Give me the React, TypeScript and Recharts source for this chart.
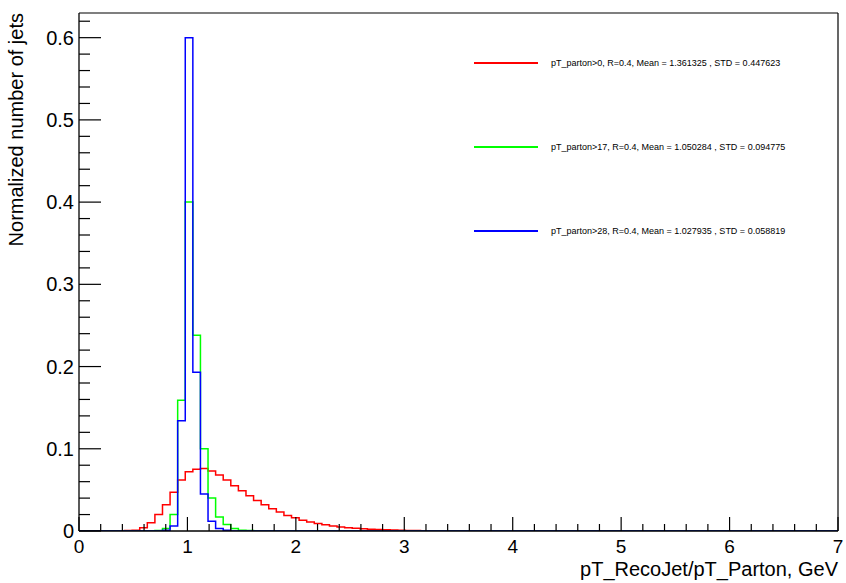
import React from "react";
import { LineChart, Line, XAxis, YAxis, ReferenceLine, Label } from "recharts";

// histogram binning: 100 bins over 0..7
const BIN_WIDTH = 0.07;
const BIN_COUNT = 100;

// bin contents, starting at the given bin index
const RED_FIRST_BIN = 6;
const RED_VALUES = [
  0.0005, 0.001, 0.004, 0.01, 0.02, 0.032, 0.047, 0.062, 0.072, 0.075, 0.076, 0.073, 0.068, 0.062,
  0.055, 0.049, 0.043, 0.037, 0.032, 0.027, 0.023, 0.019, 0.016, 0.013, 0.011, 0.009, 0.0075, 0.006,
  0.005, 0.004, 0.0033, 0.0027, 0.0022, 0.0018, 0.0014, 0.0011, 0.0009, 0.0007, 0.0005, 0.0004,
  0.0003, 0.0002, 0.00015, 0.0001,
];
const GREEN_FIRST_BIN = 10;
const GREEN_VALUES = [0.0005, 0.003, 0.02, 0.159, 0.4, 0.238, 0.1, 0.04, 0.017, 0.008, 0.003, 0.001, 0.0005];
const BLUE_FIRST_BIN = 11;
const BLUE_VALUES = [0.001, 0.006, 0.134, 0.6, 0.193, 0.045, 0.012, 0.003, 0.001];

const SERIES = [
  { key: "red", color: "#ff0000", first: RED_FIRST_BIN, values: RED_VALUES, name: "pT_parton>0, R=0.4, Mean = 1.361325 , STD = 0.447623" },
  { key: "green", color: "#00ff00", first: GREEN_FIRST_BIN, values: GREEN_VALUES, name: "pT_parton>17, R=0.4, Mean = 1.050284 , STD = 0.094775" },
  { key: "blue", color: "#0000ff", first: BLUE_FIRST_BIN, values: BLUE_VALUES, name: "pT_parton>28, R=0.4, Mean = 1.027935 , STD = 0.058819" },
];

const X_MAX = 7;
const Y_MAX = 0.63;
const X_MAJOR_TICKS = [0, 1, 2, 3, 4, 5, 6, 7];
const X_TICK_LABELS = ["0", "1", "2", "3", "4", "5", "6", "7"];
const Y_MAJOR_TICKS = [0, 0.1, 0.2, 0.3, 0.4, 0.5, 0.6];
const Y_TICK_LABELS = ["0", "0.1", "0.2", "0.3", "0.4", "0.5", "0.6"];
const X_MINOR_STEP = 0.2;
const Y_MINOR_STEP = 0.02;

const xTicks = Array.from({ length: 36 }, (_, i) => +(i * X_MINOR_STEP).toFixed(4));
const yTicks = Array.from({ length: 32 }, (_, i) => +(i * Y_MINOR_STEP).toFixed(4));

// step data: one row per bin edge
const data = Array.from({ length: BIN_COUNT + 1 }, (_, k) => {
  const row: any = { x: +(k * BIN_WIDTH).toFixed(4) };
  SERIES.forEach((s) => {
    const v = s.values[k - s.first];
    row[s.key] = v === undefined ? 0 : v;
  });
  return row;
});

const FONT = "'Liberation Sans', Arial, Helvetica, sans-serif";

const findMajor = (list: number[], v: number) => list.findIndex((t) => Math.abs(t - v) < 1e-6);

const XTick = (props: any) => {
  const { x, y, payload } = props;
  const i = findMajor(X_MAJOR_TICKS, payload.value);
  const major = i >= 0;
  return (
    <g>
      <line x1={x} y1={y} x2={x} y2={y - (major ? 14 : 7)} stroke="#000" strokeWidth={1.2} />
      {major && (
        <text x={x} y={y + 22} textAnchor="middle" fontSize={19} fontFamily={FONT} fill="#000">
          {X_TICK_LABELS[i]}
        </text>
      )}
    </g>
  );
};

const YTick = (props: any) => {
  const { x, y, payload } = props;
  const i = findMajor(Y_MAJOR_TICKS, payload.value);
  const major = i >= 0;
  return (
    <g>
      <line x1={x} y1={y} x2={x + (major ? 22 : 11)} y2={y} stroke="#000" strokeWidth={1.2} />
      {major && (
        <text x={x - 5} y={y + 7} textAnchor="end" fontSize={20} fontFamily={FONT} fill="#000">
          {Y_TICK_LABELS[i]}
        </text>
      )}
    </g>
  );
};

export default function App() {
  return (
    <div style={{ position: "relative", width: 846, height: 583, background: "#fff", fontFamily: FONT }}>
      <style>{"body{margin:0;background:#fff}"}</style>
      <LineChart width={846} height={583} data={data} margin={{ top: 13, right: 8, bottom: 0, left: 0 }}>
        <XAxis
          dataKey="x"
          type="number"
          domain={[0, X_MAX]}
          ticks={xTicks}
          interval={0}
          allowDataOverflow
          height={52}
          tickSize={0}
          tickMargin={0}
          tickLine={false}
          tick={<XTick />}
          axisLine={{ stroke: "#000", strokeWidth: 1.3 }}
        >
          <Label
            content={({ viewBox }: any) => (
              <text
                x={viewBox.x + viewBox.width}
                y={viewBox.y + 45}
                textAnchor="end"
                fontSize={20}
                fontFamily={FONT}
                fill="#000"
              >
                pT_RecoJet/pT_Parton, GeV
              </text>
            )}
          />
        </XAxis>
        <YAxis
          type="number"
          domain={[0, Y_MAX]}
          ticks={yTicks}
          interval={0}
          allowDataOverflow
          width={79}
          tickSize={0}
          tickMargin={0}
          tickLine={false}
          tick={<YTick />}
          axisLine={{ stroke: "#000", strokeWidth: 1.3 }}
        >
          <Label
            content={({ viewBox }: any) => (
              <text
                x={23}
                y={viewBox.y}
                transform={`rotate(-90, 23, ${viewBox.y})`}
                textAnchor="end"
                fontSize={20}
                fontFamily={FONT}
                fill="#000"
              >
                Normalized number of jets
              </text>
            )}
          />
        </YAxis>
        <ReferenceLine y={Y_MAX} stroke="#000" strokeWidth={1.2} />
        <ReferenceLine x={X_MAX} stroke="#000" strokeWidth={1.2} />
        {SERIES.map((s) => (
          <Line
            key={s.key}
            type="stepAfter"
            dataKey={s.key}
            stroke={s.color}
            strokeWidth={1.5}
            dot={false}
            activeDot={false}
            isAnimationActive={false}
          />
        ))}
      </LineChart>

      {/* ROOT-style legend, no box */}
      {SERIES.map((s, i) => (
        <div
          key={s.key}
          style={{
            position: "absolute",
            left: 474,
            top: 57 + i * 84,
            height: 12,
            display: "flex",
            alignItems: "center",
            fontSize: 9,
            color: "#000",
            whiteSpace: "nowrap",
          }}
        >
          <div style={{ width: 64, height: 2, background: s.color, flexShrink: 0 }} />
          <span style={{ marginLeft: 13 }}>{s.name}</span>
        </div>
      ))}
    </div>
  );
}
